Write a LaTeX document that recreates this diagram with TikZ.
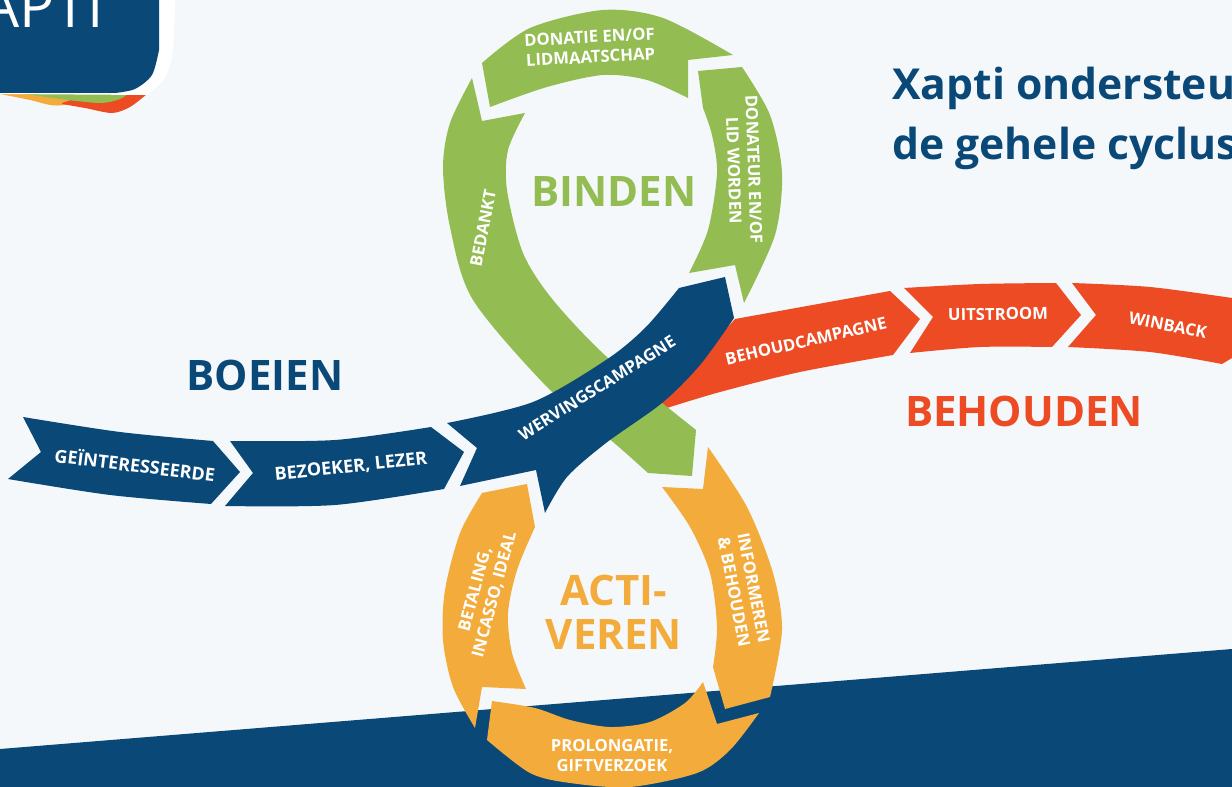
\documentclass[tikz,border=0pt]{standalone}
\usepackage{fontspec}
\setmainfont{Open Sans}
\definecolor{pagebg}{HTML}{F4F8FA}
\definecolor{navy}{HTML}{0A4877}
\definecolor{leaf}{HTML}{93BD52}
\definecolor{sun}{HTML}{F3AC3C}
\definecolor{fire}{HTML}{EC4B23}
\tikzset{
    arrowlabel/.style={text=white,font=\bfseries\fontsize{12.5}{15}\selectfont,align=center,inner sep=0pt},
    widelabel/.style={arrowlabel,font=\bfseries\fontsize{13.5}{15}\selectfont},
    phase/.style={font=\bfseries\fontsize{31.5}{33}\selectfont,align=center,inner sep=0pt},
    slogan/.style={text=navy,font=\bfseries\fontsize{32}{38}\selectfont,anchor=base west,inner sep=0pt},
}

\begin{document}
\begin{tikzpicture}[x=0.75pt,y=-0.75pt]
    \useasboundingbox (0,0) rectangle (1232,787);
    \clip (0,0) rectangle (1232,787);
    \fill[pagebg] (0,0) rectangle (1232,787);
    \fill[navy] (0,749) -- (1232,649) -- (1232,787) -- (0,787) -- cycle;

    % logo corner
    \fill[sun] (0,94) -- plot[smooth] coordinates {(0,94) (30,100) (50,105) (64,105) (80,100)} -- (60,90) -- cycle;
    \fill[fire] (62,103) -- plot[smooth] coordinates {(62,104) (85,108) (112,113) (130,107) (147,94)} -- (100,90) -- cycle;
    \fill[leaf] (20,92) -- plot[smooth] coordinates {(20,93) (60,99) (100,103) (120,99) (130,92)} -- cycle;
    \fill[white] (0,0) -- plot[smooth] coordinates {(175,0) (173,50) (165,78) (147,95)} -- (0,94) -- cycle;
    \fill[navy] (0,0) -- (159,0) -- plot[smooth] coordinates {(159,50) (152,75) (135,89) (115,93)} -- (0,93) -- cycle;
    \node[text=white,font=\fontsize{44}{44}\selectfont,anchor=base west,inner sep=0pt] (logo) at (-18,28) {APTI};

    \node[slogan] (sloganA) at (892,100) {Xapti ondersteu};
    \node[slogan] (sloganB) at (892,160) {de gehele cyclus};

    % behouden
    \fill[fire] (735,319) -- (890,291) -- (920,319) -- (893,355) -- plot[smooth] coordinates {(893,355) (800,372) (720,392) (667,408)} -- (660,402) -- cycle;
    \fill[fire] (904,288) -- plot[smooth] coordinates {(904,288) (980,284) (1056,283)} -- (1081,315) -- (1052,347) -- plot[smooth] coordinates {(1052,347) (980,347) (910,353)} -- (933,317) -- cycle;
    \fill[fire] (1072,283) -- plot[smooth] coordinates {(1072,283) (1150,287) (1232,298)} -- (1232,358) -- (1222,364) -- plot[smooth] coordinates {(1222,364) (1150,352) (1068,347)} -- (1096,315) -- cycle;

    % binden
    \fill[leaf] (482,63) -- plot[smooth] coordinates {(482,63) (530,28) (603,10) (663,18) (733,55)} -- (688,60) -- (688,98) -- plot[smooth] coordinates {(688,98) (647,80) (603,75) (547,87) (490,107)} -- cycle;
    \fill[leaf] (698,71) -- (742,67) -- plot[smooth] coordinates {(742,67) (770,115) (782,173) (775,235) (744,303)} -- (735,265) -- (689,273) -- plot[smooth] coordinates {(689,273) (708,230) (717,173) (712,135) (703,108)} -- cycle;
    \fill[leaf] (472,78) -- (482,121) -- (525,113) -- plot[smooth] coordinates {(525,113) (508,150) (507,190) (523,253) (553,300) (608,358) (696,430)} -- (692,476) -- (648,473) -- plot[smooth] coordinates {(648,473) (613,442) (550,390) (473,300) (450,227) (443,167) (450,123) (472,78)} -- cycle;

    % activeren
    \fill[sun] (708,447) -- plot[smooth] coordinates {(708,447) (747,507) (773,573) (782,630) (770,697)} -- (725,709) -- (713,667) -- plot[smooth] coordinates {(713,667) (717,627) (710,573) (690,527) (662,487)} -- (703,489) -- cycle;
    \fill[sun] (492,701) -- plot[smooth] coordinates {(492,701) (535,708) (570,720) (610,727) (650,722) (685,703) (703,682)} -- (717,724) -- (759,713) -- plot[smooth] coordinates {(759,713) (730,750) (697,773) (630,787) (570,783) (530,773) (487,740)} -- cycle;
    \fill[sun] (482,493) -- (527,484) -- (535,527) -- plot[smooth] coordinates {(535,527) (517,570) (508,613) (512,653) (526,689)} -- (482,687) -- (475,728) -- plot[smooth] coordinates {(475,728) (453,687) (443,640) (445,590) (460,533) (482,493)} -- cycle;

    % boeien
    \fill[navy] (23,417) -- plot[smooth] coordinates {(23,417) (120,432) (213,441)} -- (240,472) -- (211,504) -- plot[smooth] coordinates {(211,504) (110,495) (8,479)} -- (41,452) -- cycle;
    \fill[navy] (230,441) -- plot[smooth] coordinates {(230,441) (335,440) (431,427)} -- (464,452) -- (444,489) -- plot[smooth] coordinates {(444,489) (335,505) (225,506)} -- (253,473) -- cycle;
    \fill[navy] (447,423) -- plot[smooth] coordinates {(447,423) (533,402) (606,360) (645,328) (679,288)} -- (725,277) -- (734,318) -- plot[smooth] coordinates {(734,318) (700,365) (662,403) (606,443) (567,477) (545,513)} -- (536,470) -- (460,486) -- (477,448) -- cycle;

    % labels
    \node[widelabel,rotate=-7] (geint) at (135,464) {GEÏNTERESSEERDE};
    \node[widelabel,rotate=6] (bezoeker) at (351,467) {BEZOEKER, LEZER};
    \node[arrowlabel,rotate=32] (werving) at (597,388) {WERVINGSCAMPAGNE};
    \node[arrowlabel,rotate=13] (behoud) at (806,341) {BEHOUDCAMPAGNE};
    \node[arrowlabel,rotate=1] (uitstroom) at (998,314) {UITSTROOM};
    \node[arrowlabel,rotate=-11] (winback) at (1168,325) {WINBACK};
    \node[arrowlabel,rotate=3] (donatie) at (590,47) {DONATIE EN/OF\\LIDMAATSCHAP};
    \node[arrowlabel,rotate=-88] (donateur) at (744,170) {DONATEUR EN/OF\\LID WORDEN};
    \node[arrowlabel,rotate=79] (bedankt) at (483,228) {BEDANKT};
    \node[arrowlabel,rotate=75] (betaling) at (485,592) {BETALING,\\INCASSO, IDEAL};
    \node[arrowlabel,rotate=-79] (informeren) at (744,590) {INFORMEREN\\\& BEHOUDEN};
    \node[arrowlabel] (prolongatie) at (612,756) {PROLONGATIE,\\GIFTVERZOEK};

    % phases
    \node[phase,text=leaf] (binden) at (614,192) {BINDEN};
    \node[phase,text=navy] (boeien) at (265,375) {BOEIEN};
    \node[phase,text=fire] (behouden) at (1024,411) {BEHOUDEN};
    \node[phase,text=sun] (activeren) at (614,612) {ACTI-\\VEREN};
\end{tikzpicture}
\end{document}
